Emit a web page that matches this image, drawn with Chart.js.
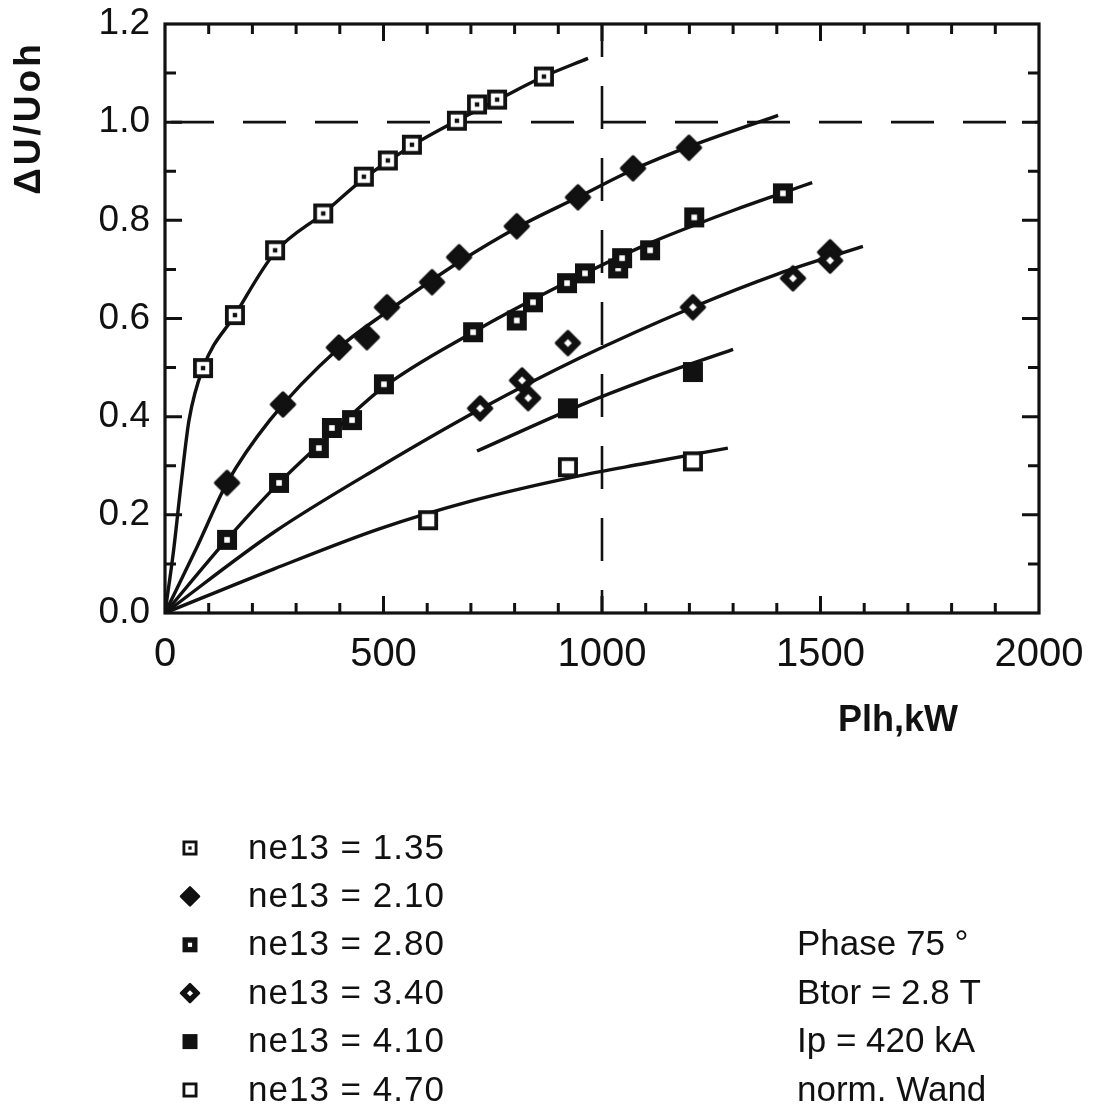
<!DOCTYPE html>
<html>
<head>
<meta charset="utf-8">
<title>ΔU/Uoh über Plh</title>
<script src="https://cdn.jsdelivr.net/npm/chart.js@4.4.1/dist/chart.umd.min.js"></script>
<style>
  html, body { margin: 0; padding: 0; background: #fff; }
</style>
</head>
<body>
<canvas id="spannung" width="1094" height="1109"></canvas>
<script>
// Messpunkte: Plh in kW, ΔU/Uoh
var p135 = [87, 160, 252, 362, 455, 510, 565, 668, 714, 760, 867];
var u135 = [0.499, 0.607, 0.739, 0.814, 0.889, 0.922, 0.954, 1.003, 1.036, 1.046, 1.093];
var p210 = [142, 270, 398, 462, 508, 611, 673, 805, 945, 1071, 1199];
var u210 = [0.265, 0.425, 0.541, 0.562, 0.623, 0.674, 0.725, 0.788, 0.847, 0.906, 0.948];
var p280 = [142, 261, 352, 382, 428, 501, 705, 805, 842, 920, 961, 1037, 1046, 1110, 1211, 1414];
var u280 = [0.149, 0.265, 0.336, 0.377, 0.393, 0.466, 0.572, 0.596, 0.633, 0.672, 0.692, 0.702, 0.723, 0.739, 0.806, 0.855];
var p340 = [721, 817, 831, 922, 1208, 1437, 1522, 1522];
var u340 = [0.417, 0.474, 0.438, 0.550, 0.623, 0.682, 0.735, 0.718];
var p410 = [922, 1208];
var u410 = [0.417, 0.491];
var p470 = [602, 922, 1208];
var u470 = [0.189, 0.297, 0.309];

// Ausgleichskurven
var fitP135 = [0, 20, 37, 55, 87, 160, 252, 362, 455, 565, 668, 760, 867, 968];
var fitU135 = [0, 0.13, 0.265, 0.393, 0.499, 0.607, 0.735, 0.814, 0.885, 0.952, 1.003, 1.045, 1.093, 1.13];
var fitP210 = [0, 73, 142, 240, 398, 510, 673, 805, 945, 1071, 1199, 1403];
var fitU210 = [0, 0.134, 0.265, 0.393, 0.54, 0.615, 0.715, 0.785, 0.847, 0.903, 0.95, 1.014];
var fitP280 = [0, 142, 261, 380, 500, 705, 900, 1100, 1211, 1300, 1414, 1481];
var fitU280 = [0, 0.15, 0.265, 0.365, 0.46, 0.572, 0.665, 0.75, 0.79, 0.82, 0.856, 0.877];
var fitP340 = [0, 250, 492, 721, 950, 1208, 1400, 1597];
var fitU340 = [0, 0.165, 0.298, 0.415, 0.52, 0.623, 0.69, 0.747];
var fitP410 = [714, 950, 1100, 1300];
var fitU410 = [0.33, 0.423, 0.475, 0.537];
var fitP470 = [0, 250, 492, 700, 950, 1100, 1288];
var fitU470 = [0, 0.09, 0.172, 0.228, 0.28, 0.305, 0.336];

var seriesLabels = ['ne13 = 1.35', 'ne13 = 2.10', 'ne13 = 2.80', 'ne13 = 3.40', 'ne13 = 4.10', 'ne13 = 4.70'];
var infoLines = ['Phase 75 °', 'Btor = 2.8 T', 'Ip = 420 kA', 'norm. Wand'];
var refU = 1.0;
var refP = 1000;

var markerKinds = ['sqDotOpen', 'diamondFilled', 'sqDotFilled', 'diamondOpen', 'sqFilled', 'sqOpen'];
var ink = '#111';
var fontFamily = '"Liberation Sans", Arial, Helvetica, sans-serif';

function toPoints(xs, ys) {
    return xs.map(function (x, i) { return { x: x, y: ys[i] }; });
}

function drawMarker(ctx, kind, cx, cy, s) {
    var h = s / 2;
    ctx.save();
    ctx.fillStyle = ink;
    ctx.strokeStyle = ink;
    if (kind === 'diamondFilled' || kind === 'diamondOpen') {
        ctx.beginPath();
        ctx.moveTo(cx, cy - h);
        ctx.lineTo(cx + h, cy);
        ctx.lineTo(cx, cy + h);
        ctx.lineTo(cx - h, cy);
        ctx.closePath();
        ctx.lineJoin = 'round';
        ctx.lineWidth = s * 0.14;
        ctx.fill();
        ctx.stroke();
        if (kind === 'diamondOpen') {
            var d = s * 0.17;
            ctx.fillStyle = '#fff';
            ctx.beginPath();
            ctx.moveTo(cx, cy - d);
            ctx.lineTo(cx + d, cy);
            ctx.lineTo(cx, cy + d);
            ctx.lineTo(cx - d, cy);
            ctx.closePath();
            ctx.fill();
        }
    } else {
        ctx.fillRect(cx - h, cy - h, s, s);
        if (kind === 'sqDotOpen' || kind === 'sqOpen') {
            var b = s * 0.19;
            ctx.fillStyle = '#fff';
            ctx.fillRect(cx - h + b, cy - h + b, s - 2 * b, s - 2 * b);
        }
        if (kind === 'sqDotOpen') {
            var r = s * 0.11;
            ctx.fillStyle = ink;
            ctx.fillRect(cx - r, cy - r, 2 * r, 2 * r);
        }
        if (kind === 'sqDotFilled') {
            var w = s * 0.14;
            ctx.fillStyle = '#fff';
            ctx.fillRect(cx - w, cy - w, 2 * w, 2 * w);
        }
    }
    ctx.restore();
}

function markerImage(kind, s) {
    var c = document.createElement('canvas');
    c.width = s + 6;
    c.height = s + 6;
    drawMarker(c.getContext('2d'), kind, c.width / 2, c.height / 2, s);
    return c;
}

var measured = [[p135, u135], [p210, u210], [p280, u280], [p340, u340], [p410, u410], [p470, u470]];
var fits = [[fitP135, fitU135], [fitP210, fitU210], [fitP280, fitU280], [fitP340, fitU340], [fitP410, fitU410], [fitP470, fitU470]];

var datasets = [];
measured.forEach(function (m, i) {
    datasets.push({
        label: seriesLabels[i],
        data: toPoints(m[0], m[1]),
        showLine: false,
        pointStyle: markerImage(markerKinds[i], markerKinds[i].indexOf('diamond') === 0 ? 23 : 20),
        pointRadius: 10,
        order: 0
    });
});
fits.forEach(function (f) {
    datasets.push({
        data: toPoints(f[0], f[1]),
        showLine: true,
        borderColor: ink,
        borderWidth: 3.4,
        pointRadius: 0,
        cubicInterpolationMode: 'monotone',
        order: 1
    });
});

// Rahmen, Innenstriche, Bezugslinien, Achsentitel und Legende
var rahmen = {
    id: 'rahmen',
    beforeDatasetsDraw: function (chart) {
        var ctx = chart.ctx, a = chart.chartArea;
        var x = chart.scales.x, y = chart.scales.y;
        ctx.save();
        ctx.strokeStyle = ink;
        ctx.lineWidth = 2.6;
        ctx.setLineDash([43, 29]);
        var yr = y.getPixelForValue(refU);
        ctx.beginPath();
        ctx.moveTo(a.left + 6, yr);
        ctx.lineTo(a.right, yr);
        ctx.stroke();
        var xr = x.getPixelForValue(refP);
        ctx.lineDashOffset = 10;
        ctx.beginPath();
        ctx.moveTo(xr, a.top);
        ctx.lineTo(xr, a.bottom);
        ctx.stroke();
        ctx.restore();
    },
    afterDatasetsDraw: function (chart) {
        var ctx = chart.ctx, a = chart.chartArea;
        var x = chart.scales.x, y = chart.scales.y;
        ctx.save();
        ctx.strokeStyle = ink;
        ctx.lineWidth = 3;
        x.ticks.forEach(function (t) {
            if (t.value <= 0 || t.value >= 2000) return;
            var px = x.getPixelForValue(t.value);
            var len = t.value % 500 === 0 ? 17 : 10;
            ctx.beginPath();
            ctx.moveTo(px, a.bottom); ctx.lineTo(px, a.bottom - len);
            ctx.moveTo(px, a.top); ctx.lineTo(px, a.top + len);
            ctx.stroke();
        });
        y.ticks.forEach(function (t) {
            if (t.value <= 0.001 || t.value >= 1.199) return;
            var py = y.getPixelForValue(t.value);
            var len = Math.round(t.value * 10) % 2 === 0 ? 17 : 11;
            ctx.beginPath();
            ctx.moveTo(a.left, py); ctx.lineTo(a.left + len, py);
            ctx.moveTo(a.right, py); ctx.lineTo(a.right - len, py);
            ctx.stroke();
        });
        ctx.lineWidth = 3.2;
        ctx.strokeRect(a.left, a.top, a.right - a.left, a.bottom - a.top);
        ctx.restore();
    },
    afterDraw: function (chart) {
        var ctx = chart.ctx;
        ctx.save();
        ctx.fillStyle = ink;
        ctx.textBaseline = 'middle';

        ctx.font = 'bold 36px ' + fontFamily;
        ctx.textAlign = 'center';
        ctx.fillText('Plh,kW', 898, 721);

        ctx.save();
        ctx.translate(30, 118);
        ctx.rotate(-Math.PI / 2);
        ctx.letterSpacing = '3px';
        ctx.font = 'bold 37px ' + fontFamily;
        ctx.fillText('ΔU/Uoh', 0, 0);
        ctx.restore();

        ctx.textAlign = 'left';
        ctx.font = '35px ' + fontFamily;
        ctx.letterSpacing = '1px';
        var rowTop = 848, rowGap = 48.4;
        seriesLabels.forEach(function (lab, i) {
            var yy = rowTop + i * rowGap;
            drawMarker(ctx, markerKinds[i], 190, yy, markerKinds[i].indexOf('diamond') === 0 ? 18 : 15);
            ctx.fillText(lab, 248, yy + 1);
        });
        ctx.letterSpacing = '0px';
        infoLines.forEach(function (txt, i) {
            ctx.fillText(txt, 797, rowTop + (i + 2) * rowGap + 1);
        });
        ctx.restore();
    }
};

var chart = new Chart(document.getElementById('spannung').getContext('2d'), {
    type: 'scatter',
    data: { datasets: datasets },
    options: {
        responsive: false,
        animation: false,
        layout: { padding: { left: 0, right: 55, top: 24, bottom: 436 } },
        plugins: {
            legend: { display: false },
            tooltip: { enabled: false }
        },
        scales: {
            x: {
                type: 'linear',
                min: 0,
                max: 2000,
                grid: { display: false, drawTicks: false },
                border: { display: false },
                afterFit: function (s) {
                    s.height = 60;
                    s.paddingLeft = 0;
                    s.paddingRight = 0;
                },
                ticks: {
                    stepSize: 100,
                    autoSkip: false,
                    maxRotation: 0,
                    padding: 18,
                    color: ink,
                    font: { family: fontFamily, size: 40 },
                    callback: function (v) { return v % 500 === 0 ? String(v) : ''; }
                }
            },
            y: {
                type: 'linear',
                min: 0,
                max: 1.2,
                grid: { display: false, drawTicks: false },
                border: { display: false },
                afterFit: function (s) {
                    s.width = 165;
                    s.paddingTop = 0;
                    s.paddingBottom = 0;
                },
                ticks: {
                    stepSize: 0.1,
                    autoSkip: false,
                    padding: 15,
                    color: ink,
                    font: { family: fontFamily, size: 37 },
                    callback: function (v) { return Math.round(v * 10) % 2 === 0 ? v.toFixed(1) : ''; }
                }
            }
        }
    },
    plugins: [rahmen]
});
</script>
</body>
</html>
